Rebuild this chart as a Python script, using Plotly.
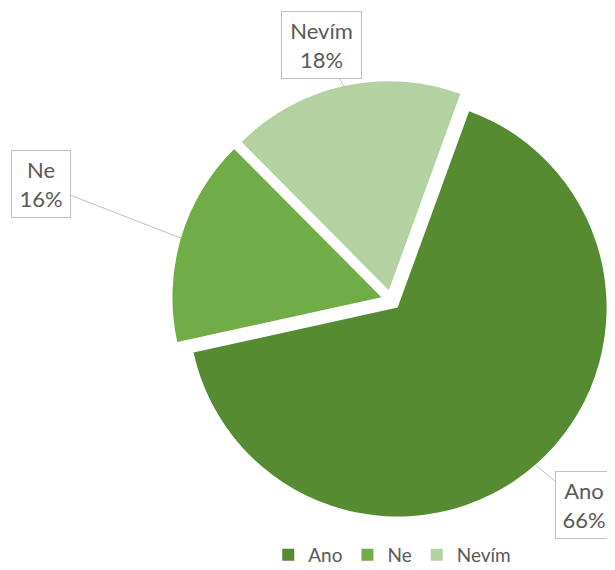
import math
import plotly.graph_objects as go

labels = ["Ano", "Ne", "Nevím"]
values = [66, 16, 18]
percent_text = ["66%", "16%", "18%"]
colors = ["#578b32", "#70ad47", "#b3d1a1"]

W, H = 607, 562
ROTATION = 20
PULL = 0.048
DOM_X = [0.2702, 0.9918]
DOM_Y = [0.0907, 0.8701]
# label box centers (figure pixels, styling)
BOX_CENTERS = [(576, 497), (32.5, 175.5), (313, 37)]
BOX_SIZES = [(56, 66), (58, 66), (79, 66)]

TEXT_COLOR = "#595959"
FONT = "Lato"

fig = go.Figure(go.Pie(
    labels=labels,
    values=values,
    sort=False,
    direction="clockwise",
    rotation=ROTATION,
    pull=[PULL] * len(values),
    marker=dict(colors=colors, line=dict(width=0)),
    textinfo="none",
    hoverinfo="label+percent",
    domain=dict(x=DOM_X, y=DOM_Y),
))

# geometry derived from domain / pull, for label callouts
cx = (DOM_X[0] + DOM_X[1]) / 2 * W
cy = H - (DOM_Y[0] + DOM_Y[1]) / 2 * H
size = min((DOM_X[1] - DOM_X[0]) * W, (DOM_Y[1] - DOM_Y[0]) * H)
r = size / 2 / (1 + PULL)
total = sum(values)
cum = 0
annotations = []
for i, v in enumerate(values):
    mid = ROTATION + (cum + v / 2) / total * 360
    cum += v
    a = math.radians(mid)
    dx, dy = math.sin(a), -math.cos(a)
    tip_x = cx + (r * (1 + PULL)) * dx
    tip_y = cy + (r * (1 + PULL)) * dy
    bx, by = BOX_CENTERS[i]
    bw, bh = BOX_SIZES[i]
    annotations.append(dict(
        x=tip_x / W, y=1 - tip_y / H, xref="paper", yref="paper",
        ax=bx - tip_x, ay=by - tip_y,
        text=f"{labels[i]}<br>{percent_text[i]}",
        showarrow=True, arrowhead=0, arrowwidth=1, arrowcolor="#bfbfbf",
        bordercolor="#bfbfbf", borderwidth=1, borderpad=0,
        bgcolor="white", width=bw, height=bh,
        font=dict(family=FONT, size=22, color=TEXT_COLOR),
        align="center", valign="middle",
    ))

fig.update_layout(
    width=W, height=H, autosize=False,
    margin=dict(l=0, r=0, t=0, b=0, autoexpand=False),
    paper_bgcolor="white", plot_bgcolor="white",
    font=dict(family=FONT, size=19, color=TEXT_COLOR),
    showlegend=True,
    legend=dict(orientation="h", x=0.633, xanchor="center", y=0.0267, yanchor="middle",
                font=dict(family=FONT, size=19, color=TEXT_COLOR),
                itemwidth=30, traceorder="normal"),
    annotations=annotations,
)

fig.write_html("out.html")
